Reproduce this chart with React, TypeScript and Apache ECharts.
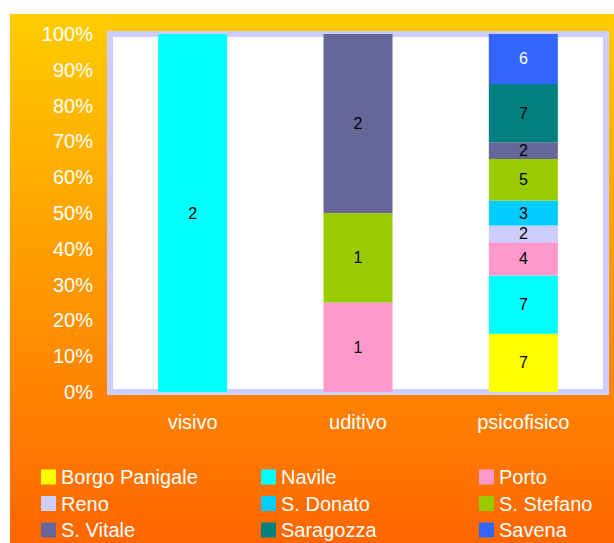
import React, { useEffect, useRef } from "react";
import * as echarts from "echarts";

const categories = ["visivo", "uditivo", "psicofisico"];
const yTicks = [0, 10, 20, 30, 40, 50, 60, 70, 80, 90, 100];

const seriesNames = [
  "Borgo Panigale",
  "Navile",
  "Porto",
  "Reno",
  "S. Donato",
  "S. Stefano",
  "S. Vitale",
  "Saragozza",
  "Savena",
];

const borgoPanigale = [0, 0, 7];
const navile = [2, 0, 7];
const porto = [0, 1, 4];
const reno = [0, 0, 2];
const sDonato = [0, 0, 3];
const sStefano = [0, 1, 5];
const sVitale = [0, 2, 2];
const saragozza = [0, 0, 7];
const savena = [0, 0, 6];

const seriesCounts = [borgoPanigale, navile, porto, reno, sDonato, sStefano, sVitale, saragozza, savena];

const colors = ["#FFFF00", "#00FFFF", "#FF99CC", "#CCCCFF", "#00CCFF", "#99CC00", "#666699", "#008080", "#3366FF"];
const labelColors = ["#000", "#000", "#000", "#000", "#000", "#000", "#000", "#000", "#fff"];

const FONT = "'Liberation Sans', Arial, sans-serif";

export default function App() {
  const ref = useRef<HTMLDivElement>(null);

  useEffect(() => {
    if (!ref.current) return;
    const chart = echarts.init(ref.current, null, { renderer: "svg" });

    const totals = categories.map((_, ci) => seriesCounts.reduce((s, arr) => s + arr[ci], 0));

    const series = seriesNames.map((name, si) => ({
      name,
      type: "bar",
      stack: "total",
      barWidth: 69,
      itemStyle: { color: colors[si] },
      label: {
        show: true,
        position: "inside",
        color: labelColors[si],
        fontSize: 16,
        fontFamily: FONT,
        formatter: (p: any) => String(seriesCounts[si][p.dataIndex]),
      },
      emphasis: { disabled: true },
      data: seriesCounts[si].map((v, ci) => (v > 0 ? (v / totals[ci]) * 100 : null)),
    }));

    const legendCol = (names: string[], left: number) => ({
      orient: "vertical",
      left,
      top: 453,
      height: 100,
      padding: 0,
      itemGap: 6.5,
      itemWidth: 15,
      itemHeight: 15,
      icon: "rect",
      selectedMode: false,
      textStyle: { color: "#fff", fontSize: 20, fontFamily: FONT },
      data: names,
    });

    chart.setOption({
      animation: false,
      backgroundColor: new echarts.graphic.LinearGradient(0, 0, 0, 1, [
        { offset: 0, color: "#FFCC00" },
        { offset: 1, color: "#FF6600" },
      ]),
      grid: {
        left: 100,
        right: 8,
        top: 20,
        bottom: 151,
        show: true,
        backgroundColor: "#ffffff",
        borderColor: "#CCCCFF",
        borderWidth: 6,
      },
      legend: [
        legendCol([seriesNames[0], seriesNames[3], seriesNames[6]], 31),
        legendCol([seriesNames[1], seriesNames[4], seriesNames[7]], 251),
        legendCol([seriesNames[2], seriesNames[5], seriesNames[8]], 469),
      ],
      xAxis: {
        type: "category",
        data: categories,
        axisLine: { show: false },
        axisTick: { show: false },
        axisLabel: { color: "#fff", fontSize: 20, fontFamily: FONT, margin: 20 },
      },
      yAxis: {
        type: "value",
        min: yTicks[0],
        max: yTicks[yTicks.length - 1],
        interval: 10,
        axisLine: { show: false },
        axisTick: { show: false },
        splitLine: { show: false },
        axisLabel: { color: "#fff", fontSize: 20, fontFamily: FONT, margin: 17, formatter: "{value}%" },
      },
      series,
    });

    return () => chart.dispose();
  }, []);

  return (
    <div
      ref={ref}
      style={{ position: "absolute", left: 10, top: 14, width: 604, height: 529 }}
    />
  );
}
